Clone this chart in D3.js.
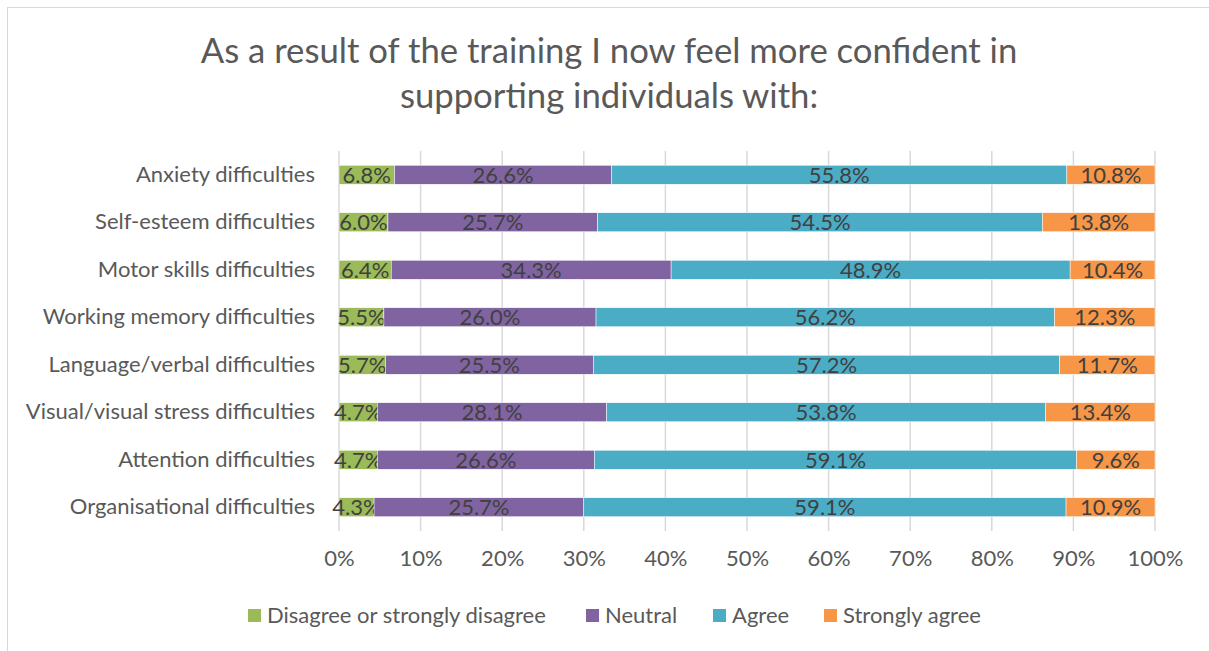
<!DOCTYPE html>
<html>
<head>
<meta charset="utf-8">
<script src="https://cdn.jsdelivr.net/npm/d3@7"></script>
<style>
  body { margin: 0; background: #fff; }
  text { font-family: Lato, "Open Sans", sans-serif; }
</style>
</head>
<body>
<svg id="chart" width="1209" height="651"></svg>
<script>
var categories = [
    "Anxiety difficulties",
    "Self-esteem difficulties",
    "Motor skills difficulties",
    "Working memory difficulties",
    "Language/verbal difficulties",
    "Visual/visual stress difficulties",
    "Attention difficulties",
    "Organisational difficulties"
]

var seriesNames = ["Disagree or strongly disagree", "Neutral", "Agree", "Strongly agree"]
var seriesColors = ["#9bbb59", "#8064a2", "#4bacc6", "#f79646"]

var disagree = [6.8, 6.0, 6.4, 5.5, 5.7, 4.7, 4.7, 4.3]
var neutral = [26.6, 25.7, 34.3, 26.0, 25.5, 28.1, 26.6, 25.7]
var agree = [55.8, 54.5, 48.9, 56.2, 57.2, 53.8, 59.1, 59.1]
var stronglyAgree = [10.8, 13.8, 10.4, 12.3, 11.7, 13.4, 9.6, 10.9]

var ticks = [0, 0.1, 0.2, 0.3, 0.4, 0.5, 0.6, 0.7, 0.8, 0.9, 1]

var titleLines = ["As a result of the training I now feel more confident in", "supporting individuals with:"]

// build rows for the stack
var rows = categories.map(function (c, i) {
    var vals = [disagree[i], neutral[i], agree[i], stronglyAgree[i]]
    var total = d3.sum(vals)
    var row = { category: c }
    seriesNames.forEach(function (s, j) { row[s] = vals[j] / total; row[s + "_label"] = vals[j] })
    return row
})

var svg = d3.select("#chart")

// chart border
svg.append("rect")
    .attr("x", 7.5).attr("y", 7.5)
    .attr("width", 1220).attr("height", 660)
    .attr("fill", "none")
    .attr("stroke", "#d9d9d9")
    .attr("stroke-width", 1)

svg.selectAll(".title")
    .data(titleLines)
    .enter().append("text")
    .attr("class", "title")
    .attr("x", 609)
    .attr("y", function (d, i) { return 63 + i * 45 })
    .attr("text-anchor", "middle")
    .attr("font-size", "34.7px")
    .attr("fill", "#595959")
    .text(function (d) { return d })

var xScale = d3.scaleLinear().domain([0, 1]).range([339, 1155])
var yScale = d3.scaleBand().domain(categories).range([151, 531]).paddingInner(0.6).paddingOuter(0.3)

// gridlines
svg.append("g")
    .selectAll("line")
    .data(ticks)
    .enter().append("line")
    .attr("x1", function (d) { return xScale(d) })
    .attr("x2", function (d) { return xScale(d) })
    .attr("y1", 151)
    .attr("y2", 531)
    .attr("stroke", "#d9d9d9")
    .attr("stroke-width", 1.5)

// x axis labels
var xAxis = svg.append("g")
    .attr("transform", "translate(0,550)")
    .call(d3.axisBottom(xScale).tickValues(ticks).tickFormat(d3.format(".0%")).tickSize(0).tickPadding(0))
xAxis.select(".domain").remove()
xAxis.selectAll("text")
    .attr("font-size", "22px")
    .attr("fill", "#595959")
    .attr("font-family", "Lato, sans-serif")

// y axis labels
var yAxis = svg.append("g")
    .attr("transform", "translate(339,0)")
    .call(d3.axisLeft(yScale).tickSize(0).tickPadding(24))
yAxis.select(".domain").remove()
yAxis.selectAll("text")
    .attr("font-size", "22px")
    .attr("fill", "#595959")
    .attr("font-family", "Lato, sans-serif")

var stack = d3.stack().keys(seriesNames)
var layers = stack(rows)

var layer = svg.selectAll(".layer")
    .data(layers)
    .enter().append("g")
    .attr("class", "layer")
    .attr("fill", function (d, i) { return seriesColors[i] })

layer.selectAll("rect")
    .data(function (d) { return d })
    .enter().append("rect")
    .attr("x", function (d) { return xScale(d[0]) })
    .attr("y", function (d) { return yScale(d.data.category) })
    .attr("width", function (d) { return xScale(d[1]) - xScale(d[0]) })
    .attr("height", yScale.bandwidth())
    .attr("stroke", "#fff")
    .attr("stroke-width", 0.5)

layer.selectAll(".lbl")
    .data(function (d) { return d.map(function (p) { p.key = d.key; return p }) })
    .enter().append("text")
    .attr("class", "lbl")
    .attr("x", function (d) { return (xScale(d[0]) + xScale(d[1])) / 2 })
    .attr("y", function (d) { return yScale(d.data.category) + yScale.bandwidth() / 2 })
    .attr("dy", "0.36em")
    .attr("text-anchor", "middle")
    .attr("font-size", "22px")
    .attr("fill", "#404040")
    .text(function (d) { return d.data[d.key + "_label"].toFixed(1) + "%" })

// legend
var legendX = [248, 586, 713, 824]
var legend = svg.append("g").selectAll("g")
    .data(seriesNames)
    .enter().append("g")
    .attr("transform", function (d, i) { return "translate(" + legendX[i] + ",609)" })
legend.append("rect")
    .attr("width", 13).attr("height", 13)
    .attr("fill", function (d, i) { return seriesColors[i] })
legend.append("text")
    .attr("x", 19)
    .attr("y", 6.5)
    .attr("dy", "0.36em")
    .attr("font-size", "22px")
    .attr("fill", "#595959")
    .text(function (d) { return d })
</script>
</body>
</html>
